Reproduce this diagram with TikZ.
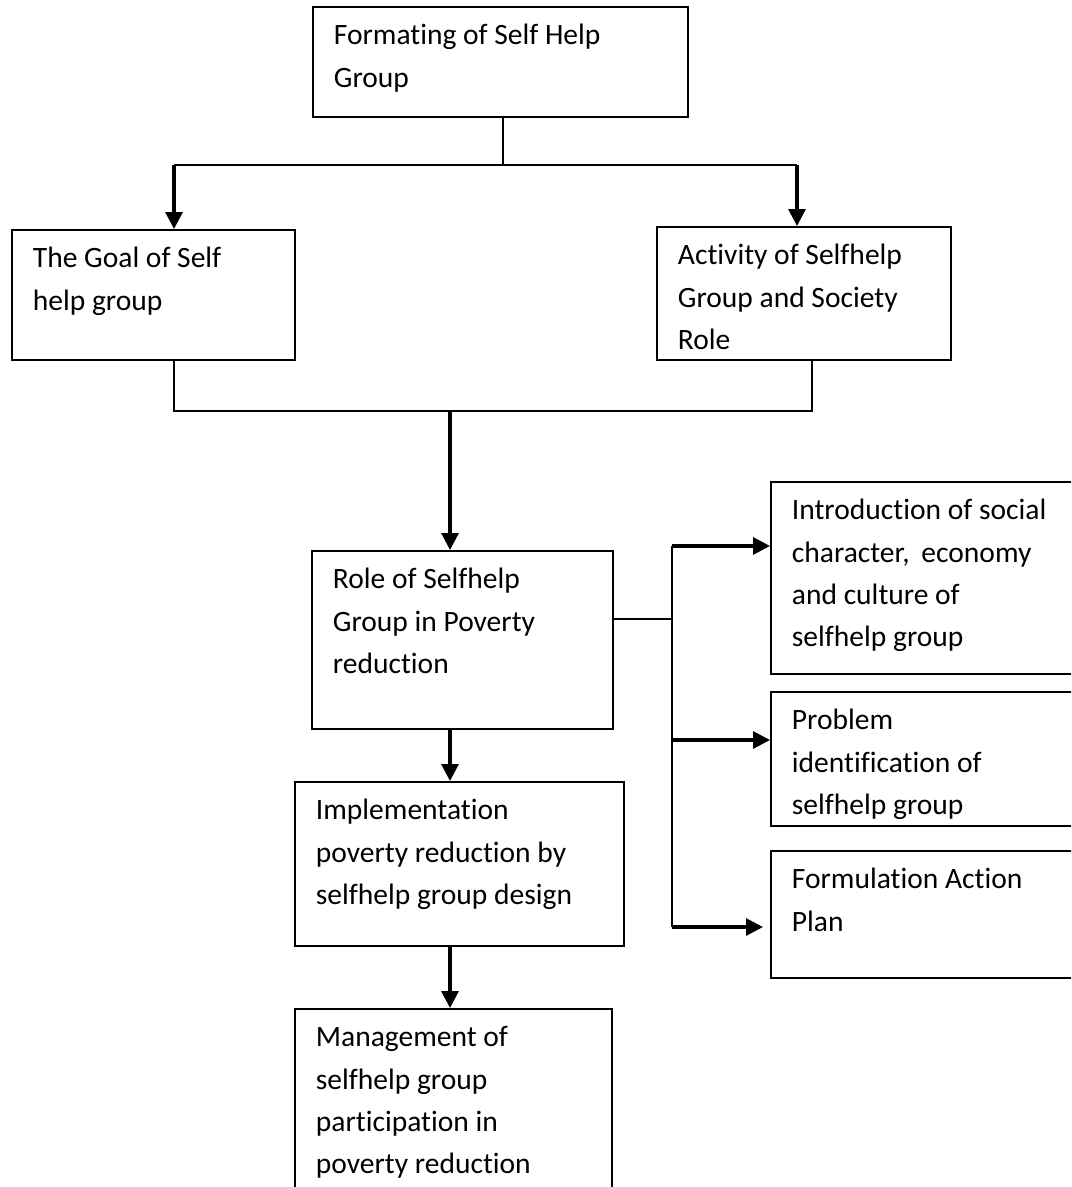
\documentclass[tikz,border=0pt]{standalone}
\usepackage{fontspec}
\setmainfont{Carlito}[Ligatures=NoCommon]
\usetikzlibrary{arrows.meta}
\newlength\pxu
\setlength\pxu{0.025cm}
\newcommand{\boxtext}[3]{\parbox[t][#2\pxu][t]{#1\pxu}{\raggedright\leftskip=21\pxu\rule{0pt}{38\pxu}#3}}
\tikzset{
  block/.style={draw, line width=1.3pt, inner sep=0pt, anchor=north west},
  wire/.style={line width=1pt},
  flow/.style={line width=2.2pt, -{Triangle[length=12pt,width=12pt]}}
}
\begin{document}
\begin{tikzpicture}[x=0.025cm, y=-0.025cm, font=\fontsize{21}{30.1}\selectfont]
\useasboundingbox (0,0) rectangle (1071,1187);
\clip (0,0) rectangle (1071,1187);
% boxes
\node[block] (top) at (312,6) {\boxtext{375}{110}{Formating of Self Help\\Group}};
\node[block] (goal) at (11,229) {\boxtext{283}{130}{The Goal of Self\\help group}};
\node[block] (act) at (656,226) {\boxtext{294}{133}{Activity of Selfhelp\\Group and Society\\Role}};
\node[block] (role) at (311,550) {\boxtext{301}{178}{Role of Selfhelp\\Group in Poverty\\reduction}};
\node[block] (intro) at (770,481) {\boxtext{330}{192}{Introduction of social\\character,\, economy\\and culture of\\selfhelp group}};
\node[block] (prob) at (770,691) {\boxtext{330}{134}{Problem\\identification of\\selfhelp group}};
\node[block] (form) at (770,850) {\boxtext{330}{127}{Formulation Action\\Plan}};
\node[block] (impl) at (294,781) {\boxtext{329}{164}{Implementation\\poverty reduction by\\selfhelp group design}};
\node[block] (mgmt) at (294,1008) {\boxtext{317}{220}{Management of\\selfhelp group\\participation in\\poverty reduction}};
% junctions
\coordinate (drop) at (503,165);
\coordinate (lsplit) at (174,165);
\coordinate (rsplit) at (797,165);
\coordinate (lmerge) at (174,411);
\coordinate (rmerge) at (812,411);
\coordinate (merge) at (450,411);
\coordinate (spine) at (672,619);
\coordinate (tap1) at (672,546);
\coordinate (tap2) at (672,740);
\coordinate (tap3) at (672,927);
% connectors
\draw[wire] (drop |- top.south) -- (drop);
\draw[wire, line width=1.3pt] (lsplit) -- (rsplit);
\draw[flow] (lsplit) -- (lsplit |- goal.north);
\draw[flow] (rsplit) -- (rsplit |- act.north);
\draw[wire] (lmerge |- goal.south) -- (lmerge) -- (rmerge) -- (rmerge |- act.south);
\draw[flow] (merge) -- (merge |- role.north);
\draw[wire] (spine -| role.east) -- (spine);
\draw[wire] (tap1) -- (tap3);
\draw[flow] (tap1) -- (tap1 -| intro.west);
\draw[flow] (tap2) -- (tap2 -| prob.west);
\draw[flow, shorten >=5pt] (tap3) -- (tap3 -| form.west);
\draw[flow] (merge |- role.south) -- (merge |- impl.north);
\draw[flow] (merge |- impl.south) -- (merge |- mgmt.north);
\end{tikzpicture}
\end{document}
